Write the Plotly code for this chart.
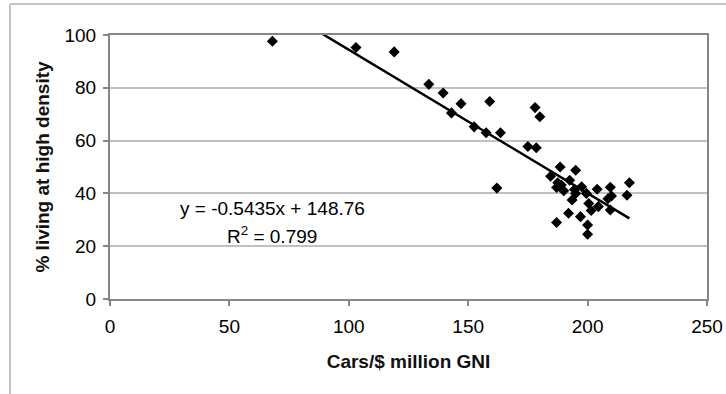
import plotly.graph_objects as go

# Data
cars_per_gni = [68, 103, 119, 133.5, 139.5, 147, 143, 159, 152.5, 157.5, 163.5, 162,
                178, 180, 175, 178.5, 184.5, 188.5, 195, 187.5, 192.5, 187, 190, 193.5,
                197.5, 195, 199.5, 204, 209.5, 210, 208.5, 216.5, 217.5, 200.5, 201.5,
                204.5, 209.5, 192, 197, 187, 200, 200, 189, 194.5]
pct_high_density = [97.6, 95.3, 93.6, 81.3, 78, 74, 70.5, 74.8, 65.2, 63, 63, 42,
                    72.5, 69, 57.8, 57.3, 46.5, 50, 48.8, 44, 45, 42.2, 41, 37.5,
                    42.5, 40, 40, 41.6, 42.3, 39, 38, 39.3, 44, 36.2, 33.5,
                    35, 33.7, 32.5, 31.2, 29, 28, 24.5, 43.2, 41.5]

slope = -0.5435
intercept = 148.76
r_squared = 0.799

x_ticks = [0, 50, 100, 150, 200, 250]
y_ticks = [0, 20, 40, 60, 80, 100]

trend_x = [min(cars_per_gni), max(cars_per_gni)]
trend_y = [slope * v + intercept for v in trend_x]

W, H = 726, 394
ML, MR, MT, MB = 110, 19, 35, 95
pw, ph = W - ML - MR, H - MT - MB

def px_x(p):
    return (p - ML) / pw

def px_y(p):
    return (H - MB - p) / ph

FONT = "Liberation Sans, Arial, sans-serif"
FS = 19

fig = go.Figure()
fig.add_trace(go.Scatter(x=trend_x, y=trend_y, mode="lines",
                         line=dict(color="black", width=2.5), hoverinfo="skip"))
fig.add_trace(go.Scatter(x=cars_per_gni, y=pct_high_density, mode="markers",
                         marker=dict(symbol="diamond", size=8.5, color="black",
                                     line=dict(width=0))))

fig.add_annotation(x=68, y=34.4, xref="x", yref="y",
                   text=f"y = {slope}x + {intercept}", showarrow=False,
                   font=dict(family=FONT, size=FS, color="black"), xanchor="center", yanchor="middle")
fig.add_annotation(x=68, y=24.2, xref="x", yref="y",
                   text=f"R<sup>2</sup> = {r_squared}", showarrow=False,
                   font=dict(family=FONT, size=FS, color="black"), xanchor="center", yanchor="middle")

# outer frame
frame_col = "#c4c4c4"
fig.add_shape(type="line", xref="paper", yref="paper", x0=px_x(10), x1=px_x(W + 5),
              y0=px_y(4), y1=px_y(4), line=dict(color=frame_col, width=2))
fig.add_shape(type="line", xref="paper", yref="paper", x0=px_x(10), x1=px_x(10),
              y0=px_y(4), y1=px_y(H + 5), line=dict(color=frame_col, width=2))

axis_common = dict(showline=True, linecolor="#868686", linewidth=2, mirror=True,
                   ticks="outside", ticklen=5, tickcolor="#868686", tickwidth=1.5,
                   tickfont=dict(family=FONT, size=FS, color="black"), zeroline=False)

fig.update_xaxes(range=[0, 250], tickvals=x_ticks, showgrid=False, ticklabelstandoff=4,
                 title=dict(text="<b>Cars/$ million GNI</b>", standoff=19,
                            font=dict(family=FONT, size=FS, color="#111")),
                 **axis_common)
fig.update_yaxes(range=[0, 100], tickvals=y_ticks, showgrid=True, gridcolor="#c0c0c0",
                 gridwidth=1.5, ticklabelstandoff=3,
                 title=dict(text="<b>% living at high density</b>", standoff=10,
                            font=dict(family=FONT, size=FS, color="#111")),
                 **axis_common)

fig.update_layout(width=W, height=H, margin=dict(l=ML, r=MR, t=MT, b=MB, autoexpand=False),
                  paper_bgcolor="white", plot_bgcolor="white", showlegend=False)

fig.write_html("out.html", config={"displayModeBar": False},
               post_script="document.body.style.margin='0';")
